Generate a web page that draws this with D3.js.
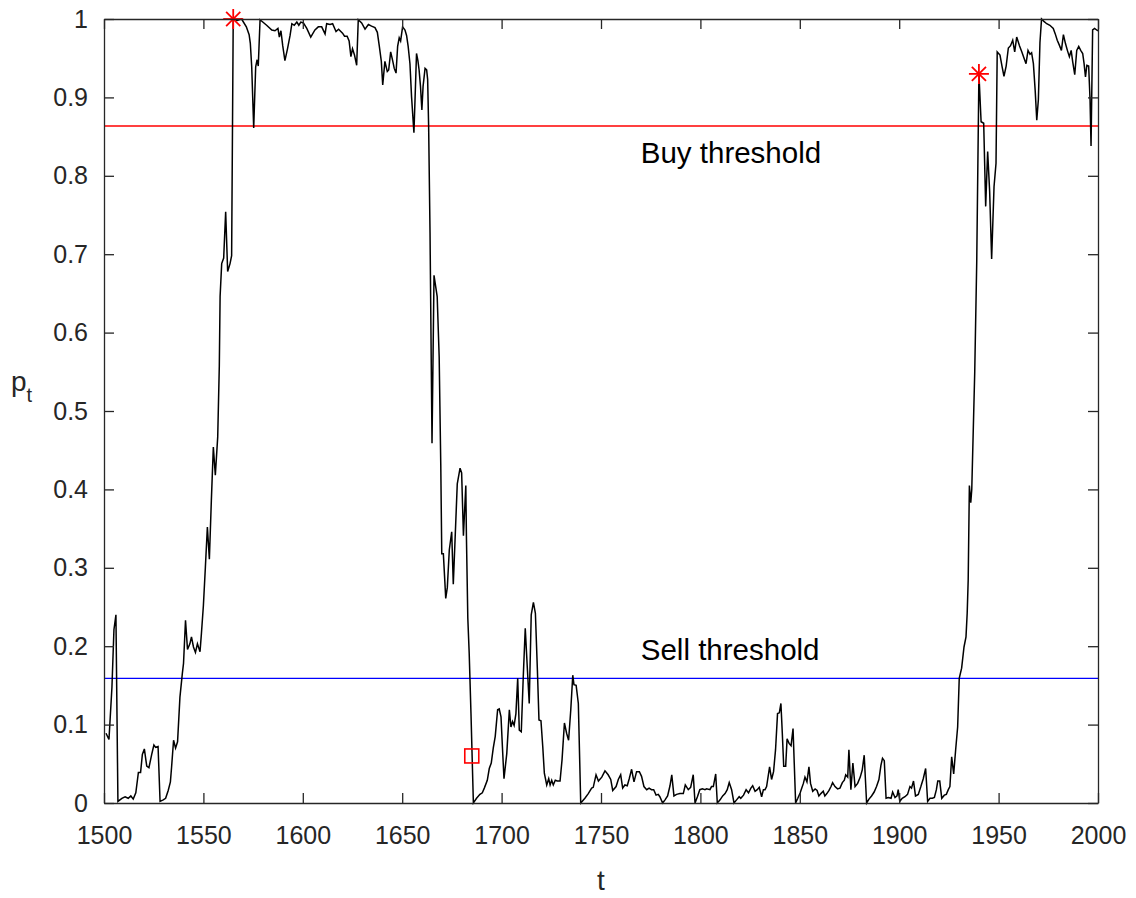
<!DOCTYPE html>
<html>
<head>
<meta charset="utf-8">
<script src="https://cdn.jsdelivr.net/npm/d3@7"></script>
<style>
  body { margin: 0; background: #fff; }
  svg { font-family: 'Liberation Sans', Arial, sans-serif; }
</style>
</head>
<body>
<svg id="canvas" width="1136" height="898"></svg>
<script>
// values (t, p_t)
let times = [
  1501, 1502.5, 1504, 1505, 1506, 1507, 1509, 1510.6, 1512.2, 1513.5, 1514.7, 1516, 1517.3, 1518.4, 1519.3, 1520.3,
  1521.5, 1522.6, 1524, 1525.1, 1526, 1527.2, 1528.2, 1529.8, 1531, 1532.3, 1533.4, 1534, 1535, 1536, 1537, 1538.2,
  1539.4, 1540, 1541, 1542, 1543.2, 1544, 1545, 1546, 1547, 1548.3, 1549, 1550, 1551, 1552, 1553, 1554, 1555, 1556,
  1557.2, 1558, 1558.4, 1559.2, 1560.2, 1561.2, 1562.2, 1563.4, 1564.2, 1565, 1567, 1569.2, 1571.6, 1573, 1573.6,
  1574.3, 1575.3, 1576.3, 1577, 1577.6, 1578.5, 1581.8, 1584.4, 1586, 1587.5, 1588.2, 1589, 1589.9, 1591, 1592.3,
  1593.6, 1594.5, 1595.7, 1597, 1598, 1599, 1600.3, 1602, 1604, 1606.1, 1607.8, 1609.5, 1611.2, 1612, 1613.7, 1615,
  1616.7, 1618, 1620, 1621, 1622.3, 1623.3, 1624.2, 1625, 1626, 1627.1, 1627.9, 1629.6, 1631.3, 1633, 1634.6, 1636.3,
  1637.5, 1638.5, 1639.5, 1640.2, 1641.3, 1642.5, 1643.2, 1644.2, 1645.2, 1646, 1646.9, 1647.7, 1648.5, 1649.2, 1650.2,
  1651.4, 1652.2, 1653, 1653.9, 1654.7, 1655.9, 1656.5, 1657.2, 1657.9, 1658.5, 1659.2, 1659.9, 1660.5, 1661.5, 1662.3,
  1662.8, 1663.3, 1664, 1665, 1666, 1667.6, 1668.6, 1669.4, 1669.9, 1670.7, 1671.9, 1672.7, 1673.7, 1674.9, 1675.7,
  1676.5, 1677.7, 1679.1, 1679.9, 1680.8, 1682, 1682.3, 1683, 1683.7, 1684.6, 1685.8, 1687.4, 1689.1, 1690.3, 1691.3,
  1692.8, 1693.8, 1694.8, 1695.8, 1696.8, 1698, 1698.8, 1699.7, 1700.4, 1701.2, 1702.6, 1703.9, 1704.7, 1705.5, 1706.3,
  1707.2, 1708.1, 1708.9, 1709.9, 1710.9, 1711.9, 1712.9, 1713.9, 1714.9, 1716, 1717, 1718, 1718.8, 1719.8, 1720.7,
  1721.5, 1722.7, 1723.7, 1724.4, 1725.2, 1726, 1727, 1728, 1729.4, 1730.4, 1731.6, 1732.7, 1733.7, 1734.8, 1735.8,
  1736.4, 1737.5, 1738.6, 1739.8, 1741.9, 1743.6, 1745.3, 1746.1, 1747.5, 1748.7, 1750.4, 1752, 1753.6, 1754.9, 1755.9,
  1757.6, 1758.7, 1759.9, 1760.9, 1762, 1763.2, 1764.2, 1765.4, 1766.6, 1767.9, 1769.3, 1770.4, 1771.6, 1773, 1774.2,
  1775.4, 1776.5, 1777.7, 1778.8, 1779.6, 1781, 1782.2, 1783.5, 1784.7, 1785.6, 1786.7, 1788, 1789.7, 1791.4, 1792.4,
  1793.9, 1795.1, 1796.4, 1797.3, 1798.5, 1799.7, 1801, 1802.3, 1803.1, 1804.8, 1805.6, 1806.5, 1807.7, 1808.5, 1809.9,
  1811.2, 1812.4, 1813.5, 1814.5, 1815.7, 1816.9, 1818.2, 1819.5, 1820.3, 1821.7, 1823, 1824.2, 1825.4, 1826.3, 1827.5,
  1828.6, 1829.6, 1830.8, 1831.7, 1832.5, 1833.3, 1834.8, 1835.8, 1836.8, 1837.8, 1838.8, 1839.7, 1840.5, 1841.2,
  1841.9, 1842.9, 1843.6, 1844.6, 1845.6, 1846.6, 1847.9, 1849, 1850.2, 1851, 1851.8, 1852.6, 1853.6, 1854.6, 1855.4,
  1856.5, 1857.7, 1858.7, 1859.6, 1860.6, 1861.8, 1862.6, 1863.6, 1864.7, 1865.7, 1866.5, 1867.7, 1869, 1870.2, 1871.4,
  1872.4, 1873.1, 1874.1, 1874.7, 1875.7, 1876.7, 1877.8, 1879.1, 1880.4, 1881.4, 1882.4, 1883.6, 1884.8, 1886.1,
  1887.4, 1888.6, 1889.8, 1890.8, 1891.6, 1892.5, 1893.4, 1894.5, 1895.9, 1896.7, 1897.9, 1898.9, 1899.5, 1900.3,
  1901.5, 1902.9, 1904.2, 1905.4, 1906.2, 1907.2, 1908.2, 1909.6, 1910.9, 1912.1, 1913.3, 1914.3, 1915.5, 1916.7,
  1917.7, 1918.7, 1919.4, 1920.4, 1921.4, 1922.7, 1923.7, 1924.7, 1925.5, 1926.4, 1927.4, 1928.4, 1929.4, 1930.2,
  1931.4, 1932.6, 1933.6, 1934.2, 1934.7, 1935.3, 1936, 1936.5, 1938, 1939, 1940.1, 1941.2, 1942.5, 1943.5, 1944.5,
  1945.5, 1946.5, 1947.7, 1948.7, 1949.3, 1950.7, 1951.7, 1952.7, 1953.8, 1954.9, 1956, 1957.1, 1958.1, 1959.1, 1960.5,
  1961.7, 1962.8, 1963.8, 1964.8, 1965.8, 1966.6, 1967.5, 1968.4, 1969.2, 1970, 1970.8, 1971.6, 1972.8, 1974.2, 1975.8,
  1977.5, 1978.5, 1979.5, 1980.5, 1981.6, 1982.6, 1983.6, 1984.6, 1985.6, 1986.5, 1987.3, 1988.3, 1989.3, 1990.3,
  1991.3, 1992.3, 1993, 1993.7, 1994.4, 1995.3, 1996, 1996.5, 1997.3, 1998.3, 1999.3, 2000
]
let probs = [
  0.089, 0.081, 0.148, 0.221, 0.240, 0.002, 0.006, 0.008, 0.006, 0.009, 0.005, 0.013, 0.039, 0.039, 0.062, 0.069,
  0.047, 0.045, 0.062, 0.074, 0.071, 0.072, 0.002, 0.004, 0.006, 0.016, 0.027, 0.046, 0.080, 0.070, 0.078, 0.135,
  0.165, 0.178, 0.233, 0.196, 0.203, 0.212, 0.199, 0.192, 0.203, 0.193, 0.216, 0.252, 0.301, 0.352, 0.311, 0.386, 0.454, 0.418,
  0.467, 0.557, 0.646, 0.688, 0.695, 0.754, 0.678, 0.688, 0.698, 1.0, 0.998, 1.0, 0.99, 0.98, 0.969,
  0.939, 0.861, 0.939, 0.948, 0.94, 0.999, 0.992, 0.986, 0.985, 0.988, 0.977, 0.985, 0.966, 0.947, 0.962,
  0.979, 0.994, 0.992, 0.996, 0.992, 0.996, 0.995, 0.988, 0.977, 0.986, 0.99, 0.99, 0.981, 0.994, 0.993, 0.994,
  0.984, 0.987, 0.982, 0.978, 0.978, 0.972, 0.952, 0.962, 0.954, 0.941, 0.999, 0.995, 0.987, 0.993, 0.991, 0.989,
  0.983, 0.965, 0.946, 0.916, 0.946, 0.933, 0.935, 0.958, 0.947, 0.937, 0.931, 0.965, 0.976, 0.972, 0.99,
  0.986, 0.979, 0.965, 0.943, 0.901, 0.855, 0.901, 0.956, 0.947, 0.935, 0.914, 0.884, 0.914, 0.937, 0.935,
  0.923, 0.863, 0.727, 0.459, 0.673, 0.646, 0.569, 0.432, 0.318, 0.318, 0.261, 0.275, 0.323, 0.346, 0.279,
  0.33, 0.407, 0.427, 0.421, 0.341, 0.405, 0.341, 0.236, 0.191, 0.114, 0.0, 0.006, 0.011, 0.013, 0.019,
  0.029, 0.044, 0.051, 0.070, 0.085, 0.119, 0.120, 0.110, 0.072, 0.031, 0.063, 0.119, 0.097, 0.104, 0.099,
  0.114, 0.159, 0.093, 0.091, 0.161, 0.223, 0.174, 0.127, 0.240, 0.256, 0.242, 0.170, 0.106, 0.105, 0.072,
  0.038, 0.023, 0.031, 0.023, 0.029, 0.023, 0.029, 0.028, 0.028, 0.055, 0.102, 0.089, 0.080, 0.119, 0.163,
  0.151, 0.150, 0.127, 0.0, 0.006, 0.012, 0.019, 0.020, 0.036, 0.028, 0.033, 0.041, 0.036, 0.030, 0.016,
  0.021, 0.030, 0.036, 0.019, 0.023, 0.022, 0.031, 0.043, 0.027, 0.040, 0.040, 0.034, 0.021, 0.017, 0.019,
  0.017, 0.017, 0.010, 0.011, 0.008, 0.0, 0.004, 0.009, 0.022, 0.036, 0.009, 0.011, 0.012, 0.012, 0.023,
  0.017, 0.020, 0.036, 0.0, 0.008, 0.017, 0.018, 0.017, 0.018, 0.017, 0.021, 0.021, 0.037, 0.0, 0.004,
  0.009, 0.012, 0.017, 0.026, 0.017, 0.0, 0.004, 0.008, 0.006, 0.010, 0.017, 0.013, 0.019, 0.022, 0.015,
  0.017, 0.020, 0.008, 0.017, 0.017, 0.021, 0.046, 0.030, 0.040, 0.068, 0.114, 0.115, 0.127, 0.089,
  0.047, 0.047, 0.082, 0.076, 0.073, 0.095, 0.0, 0.006, 0.013, 0.019, 0.025, 0.033, 0.027, 0.046, 0.025,
  0.015, 0.018, 0.016, 0.009, 0.012, 0.015, 0.009, 0.012, 0.016, 0.021, 0.026, 0.021, 0.018, 0.019, 0.026,
  0.029, 0.036, 0.033, 0.068, 0.017, 0.051, 0.021, 0.025, 0.033, 0.042, 0.061, 0.0, 0.005, 0.009,
  0.014, 0.021, 0.030, 0.048, 0.057, 0.054, 0.006, 0.007, 0.006, 0.014, 0.007, 0.009, 0.017, 0.002,
  0.006, 0.008, 0.011, 0.021, 0.019, 0.028, 0.009, 0.011, 0.021, 0.031, 0.044, 0.002, 0.006, 0.006,
  0.007, 0.017, 0.028, 0.028, 0.006, 0.010, 0.011, 0.017, 0.021, 0.059, 0.037, 0.068, 0.097, 0.159,
  0.172, 0.199, 0.212, 0.242, 0.284, 0.405, 0.383, 0.40, 0.55, 0.69, 0.93, 0.869, 0.867, 0.761, 0.831,
  0.78, 0.694, 0.786, 0.816, 0.958, 0.954, 0.94, 0.927, 0.94, 0.963, 0.966, 0.973, 0.958, 0.977, 0.966,
  0.958, 0.95, 0.943, 0.960, 0.955, 0.957, 0.943, 0.909, 0.871, 0.897, 0.97, 1.0, 0.997, 0.994, 0.992,
  0.988, 0.981, 0.973, 0.967, 0.960, 0.980, 0.969, 0.96, 0.952, 0.96, 0.945, 0.929, 0.96, 0.965,
  0.96, 0.956, 0.943, 0.926, 0.941, 0.94, 0.897, 0.838, 0.986, 0.988, 0.986, 0.985
]

let buyThreshold = 0.8635
let sellThreshold = 0.159

// where the signals fired
let buyTimes = [1565, 1940.1]
let buyProbs = [1.0, 0.93]
let sellTimes = [1685]
let sellProbs = [0.06]

let xTicks = [1500, 1550, 1600, 1650, 1700, 1750, 1800, 1850, 1900, 1950, 2000]
let yTicks = [0, 0.1, 0.2, 0.3, 0.4, 0.5, 0.6, 0.7, 0.8, 0.9, 1]

let series = d3.zip(times, probs)

let canvas = d3.select('#canvas')
let axisColor = '#262626'

// plot box in pixels
let boxLeft = 104, boxRight = 1098, boxTop = 19, boxBottom = 803

let xScale = d3.scaleLinear().domain([1500, 2000]).range([boxLeft, boxRight])
let yScale = d3.scaleLinear().domain([0, 1]).range([boxBottom, boxTop])

// the data line first, axes go on top of it like matlab does
let plot = canvas.append('g')

plot.append('line')
    .attr('x1', xScale(1500)).attr('x2', xScale(2000))
    .attr('y1', yScale(buyThreshold)).attr('y2', yScale(buyThreshold))
    .attr('stroke', '#ff0000').attr('stroke-width', 1.3)

plot.append('line')
    .attr('x1', xScale(1500)).attr('x2', xScale(2000))
    .attr('y1', yScale(sellThreshold)).attr('y2', yScale(sellThreshold))
    .attr('stroke', '#0000ff').attr('stroke-width', 1.3)

let line = d3.line()
    .x(d => xScale(d[0]))
    .y(d => yScale(d[1]))

plot.append('path')
    .datum(series)
    .attr('d', line)
    .attr('fill', 'none')
    .attr('stroke', '#000')
    .attr('stroke-width', 1.5)
    .attr('stroke-linejoin', 'miter')

// buy markers (asterisk = plus + cross)
let starR = 10
let stars = plot.selectAll('.star')
    .data(d3.zip(buyTimes, buyProbs))
    .enter()
    .append('g')
    .attr('class', 'star')
    .attr('transform', d => 'translate(' + xScale(d[0]) + ',' + yScale(d[1]) + ')')

let arms = [0, 45, 90, 135]
arms.forEach(a => {
    let rad = a * Math.PI / 180
    stars.append('line')
        .attr('x1', -starR * Math.cos(rad)).attr('y1', -starR * Math.sin(rad))
        .attr('x2', starR * Math.cos(rad)).attr('y2', starR * Math.sin(rad))
        .attr('stroke', '#ff0000').attr('stroke-width', 1.8)
})

// sell marker
let sq = 14
plot.selectAll('.sq')
    .data(d3.zip(sellTimes, sellProbs))
    .enter()
    .append('rect')
    .attr('class', 'sq')
    .attr('x', d => xScale(d[0]) - sq / 2)
    .attr('y', d => yScale(d[1]) - sq / 2)
    .attr('width', sq).attr('height', sq)
    .attr('fill', 'none')
    .attr('stroke', '#ff0000').attr('stroke-width', 1.6)

// threshold labels
plot.append('text')
    .attr('x', xScale(1770)).attr('y', yScale(0.829))
    .attr('dy', '0.35em')
    .style('font-size', '29.5px')
    .attr('fill', '#000')
    .text('Buy threshold')

plot.append('text')
    .attr('x', xScale(1770)).attr('y', yScale(0.195))
    .attr('dy', '0.35em')
    .style('font-size', '29.5px')
    .attr('fill', '#000')
    .text('Sell threshold')

// axes, ticks point inwards
let xAxis = d3.axisBottom(xScale).tickValues(xTicks).tickSizeInner(-10).tickSizeOuter(0).tickPadding(23)
    .tickFormat(d3.format('d'))
let yAxis = d3.axisLeft(yScale).tickValues(yTicks).tickSizeInner(-10).tickSizeOuter(0).tickPadding(16)
    .tickFormat(d => d === 0 || d === 1 ? d : d3.format('.1f')(d))
let xTop = d3.axisTop(xScale).tickValues(xTicks).tickSizeInner(-10).tickSizeOuter(0).tickFormat('')
let yRight = d3.axisRight(yScale).tickValues(yTicks).tickSizeInner(-10).tickSizeOuter(0).tickFormat('')

let styleAxis = g => {
    g.selectAll('path').attr('stroke', axisColor).attr('stroke-width', 1.3)
    g.selectAll('line').attr('stroke', axisColor).attr('stroke-width', 1.3)
    g.selectAll('text').attr('fill', axisColor)
        .style('font-size', '25px')
        .style('font-family', "'Liberation Sans', Arial, sans-serif")
}

canvas.append('g').attr('transform', 'translate(0,' + boxBottom + ')').call(xAxis).call(styleAxis)
canvas.append('g').attr('transform', 'translate(' + boxLeft + ',0)').call(yAxis).call(styleAxis)
canvas.append('g').attr('transform', 'translate(0,' + boxTop + ')').call(xTop).call(styleAxis)
canvas.append('g').attr('transform', 'translate(' + boxRight + ',0)').call(yRight).call(styleAxis)

// axis labels
canvas.append('text')
    .attr('x', (boxLeft + boxRight) / 2).attr('y', 890)
    .attr('text-anchor', 'middle')
    .style('font-size', '28px')
    .attr('fill', axisColor)
    .text('t')

let yLabel = canvas.append('text')
    .attr('x', 11).attr('y', 391)
    .style('font-size', '28px')
    .attr('fill', axisColor)
yLabel.append('tspan').text('p')
yLabel.append('tspan').attr('dy', 11).style('font-size', '20px').text('t')
</script>
</body>
</html>
